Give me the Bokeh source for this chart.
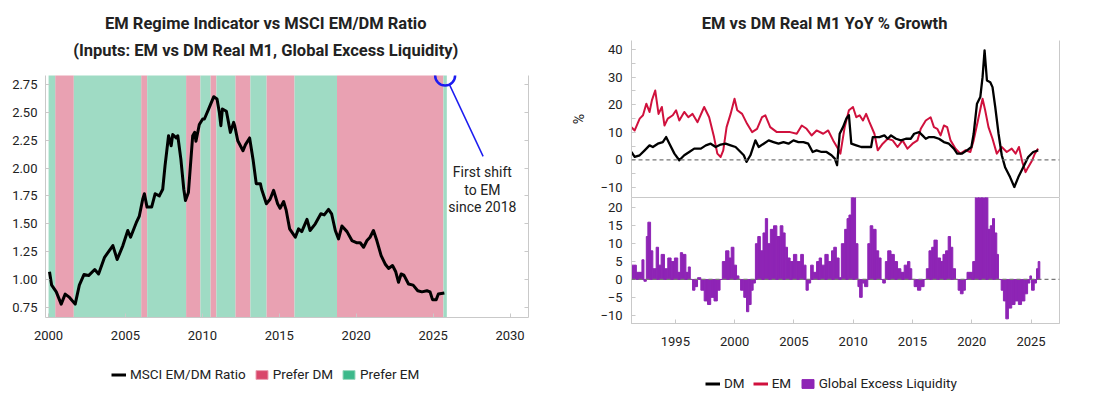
import numpy as np
from bokeh.plotting import figure
from bokeh.models import (Range1d, FixedTicker, LinearAxis, Legend, LegendItem,
                          Span, NumeralTickFormatter)
from bokeh.layouts import row, column
from bokeh.embed import file_html
from bokeh.resources import INLINE

# ---------------- data: left chart ----------------
ratio_year = [2000.06, 2000.2, 2000.5, 2000.82, 2001.08, 2001.36, 2001.73, 2002.0, 2002.3, 2002.6,
              2003.0, 2003.25, 2003.64, 2004.18, 2004.46, 2004.83, 2005.15, 2005.33, 2005.7, 2005.9,
              2006.12, 2006.23, 2006.4, 2006.7, 2006.93, 2007.2, 2007.42, 2007.57, 2007.8, 2007.97,
              2008.07, 2008.3, 2008.4, 2008.6, 2008.79, 2008.9, 2009.09, 2009.37, 2009.5, 2009.58,
              2009.8, 2010.02, 2010.13, 2010.41, 2010.74, 2010.95, 2011.1, 2011.2, 2011.3, 2011.56,
              2011.82, 2012.03, 2012.1, 2012.3, 2012.64, 2012.8, 2013.07, 2013.29, 2013.5, 2013.77,
              2013.85, 2014.16, 2014.4, 2014.63, 2014.89, 2015.05, 2015.28, 2015.45, 2015.67, 2016.04,
              2016.25, 2016.46, 2016.8, 2017.0, 2017.34, 2017.7, 2017.92, 2018.2, 2018.4, 2018.64,
              2018.85, 2019.07, 2019.4, 2019.72, 2020.05, 2020.26, 2020.48, 2020.7, 2020.9, 2021.12,
              2021.34, 2021.62, 2021.88, 2022.1, 2022.36, 2022.57, 2022.75, 2022.92, 2023.1, 2023.4,
              2023.7, 2024.0, 2024.27, 2024.6, 2024.8, 2024.96, 2025.2, 2025.34, 2025.73]
ratio_val = [1.07, 0.95, 0.89, 0.78, 0.87, 0.84, 0.78, 0.95, 1.045, 1.036,
             1.09, 1.05, 1.20, 1.305, 1.18, 1.305, 1.44, 1.38, 1.51, 1.57,
             1.72, 1.77, 1.65, 1.65, 1.77, 1.75, 1.81, 2.02, 2.29, 2.20,
             2.30, 2.27, 2.29, 2.08, 1.81, 1.71, 1.78, 2.29, 2.32, 2.24,
             2.39, 2.44, 2.44, 2.53, 2.64, 2.62, 2.50, 2.38, 2.53, 2.51,
             2.32, 2.41, 2.38, 2.245, 2.155, 2.21, 2.27, 2.08, 1.86, 1.86,
             1.81, 1.68, 1.72, 1.80, 1.68, 1.64, 1.70, 1.62, 1.455, 1.38,
             1.455, 1.43, 1.54, 1.44, 1.50, 1.59, 1.58, 1.63, 1.59, 1.44,
             1.365, 1.48, 1.43, 1.35, 1.33, 1.33, 1.29, 1.35, 1.38, 1.44,
             1.35, 1.215, 1.14, 1.10, 1.126, 1.07, 0.976, 1.05, 1.04, 0.96,
             0.95, 0.90, 0.89, 0.90, 0.89, 0.82, 0.82, 0.87, 0.88]

regime_start = [2000.0, 2000.43, 2001.64, 2006.02, 2006.41, 2008.94, 2009.87, 2010.52,
                2010.91, 2012.14, 2013.12, 2014.16, 2015.99, 2018.75, 2025.67]
regime_end = [2000.43, 2001.64, 2006.02, 2006.41, 2008.94, 2009.87, 2010.52, 2010.91,
              2012.14, 2013.12, 2014.16, 2015.99, 2018.75, 2025.67, 2025.89]
regime_type = ["EM", "DM", "EM", "DM", "EM", "DM", "EM", "DM",
               "EM", "DM", "EM", "DM", "EM", "DM", "EM"]

left_xticks = [2000, 2005, 2010, 2015, 2020, 2025, 2030]
left_yticks = [0.75, 1.0, 1.25, 1.5, 1.75, 2.0, 2.25, 2.5, 2.75]

left_title_1 = "EM Regime Indicator vs MSCI EM/DM Ratio"
left_title_2 = "(Inputs: EM vs DM Real M1, Global Excess Liquidity)"
right_title = "EM vs DM Real M1 YoY % Growth"

# annotation
note_year, note_level = 2025.78, 2.83
note_line_x = [2026.07, 2028.25]
note_line_y = [2.746, 2.105]
note_text = "First shift\nto EM\nsince 2018"
note_text_x, note_text_y = 2028.2, 2.04

# ---------------- data: right chart ----------------
em_year = [1991.29, 1991.57, 1991.99, 1992.27, 1992.55, 1992.82, 1993.02, 1993.3, 1993.58, 1993.86,
           1994.08, 1994.36, 1994.78, 1995.06, 1995.33, 1995.75, 1996.09, 1996.45, 1996.87, 1997.43,
           1997.85, 1998.26, 1998.54, 1998.82, 1999.04, 1999.32, 1999.66, 1999.99, 2000.22, 2000.63,
           2001.05, 2001.47, 2001.89, 2002.31, 2002.59, 2003.0, 2003.56, 2004.12, 2004.68, 2005.24,
           2005.66, 2006.07, 2006.49, 2006.91, 2007.47, 2007.89, 2008.31, 2008.72, 2008.92, 2009.28,
           2009.64, 2009.98, 2010.26, 2010.54, 2010.82, 2011.09, 2011.37, 2011.79, 2012.07, 2012.49,
           2012.91, 2013.33, 2013.74, 2014.16, 2014.58, 2015.0, 2015.42, 2015.7, 2016.12, 2016.53,
           2016.81, 2017.09, 2017.37, 2017.65, 2017.93, 2018.21, 2018.63, 2019.04, 2019.46, 2019.88,
           2020.16, 2020.52, 2020.91, 2021.13, 2021.41, 2021.75, 2022.11, 2022.53, 2022.95, 2023.37,
           2023.7, 2023.98, 2024.26, 2024.54, 2024.76, 2025.1, 2025.32, 2025.6]
em_val = [11.9, 10.7, 15, 16.2, 20.4, 17.4, 21.6, 25.2, 16.7, 19.2,
          12.5, 15, 16.2, 18, 14.3, 17.4, 15.5, 16.7, 13.7, 19.2,
          15.5, 8.3, 2.3, 1.1, 3.5, 11.9, 16.7, 22.2, 18, 16.7,
          13.1, 10.1, 11.3, 15.5, 16.2, 11.9, 10.1, 10.1, 10.1, 9.5,
          12.5, 11.3, 8.9, 10.7, 9.5, 10.7, 7.1, 4.1, 2.3, 11.9,
          18, 19.2, 15.5, 16.2, 14.3, 16.7, 13.7, 9.5, 3.5, 5.9,
          7.7, 7.1, 4.7, 7.1, 4.1, 5.9, 7.1, 11.3, 14.3, 15.5,
          11.9, 11.3, 8.9, 12.5, 11.9, 7.1, 4.1, 2.3, 3.5, 2.9,
          7.1, 14.3, 22.2, 18, 11.9, 7.7, 2.3, 4.7, 2.9, 4.1,
          2.3, 4.7, -0.7, -4.4, -2.6, -0.1, 2.3, 4.1]

dm_year = [1991.29, 1991.57, 1991.99, 1992.41, 1992.82, 1993.1, 1993.52, 1993.94, 1994.22, 1994.5,
           1994.92, 1995.33, 1995.75, 1996.17, 1996.59, 1997.15, 1997.57, 1997.98, 1998.4, 1998.82,
           1999.24, 1999.66, 2000.08, 2000.5, 2000.77, 2001.0, 2001.33, 2001.75, 2002.03, 2002.45,
           2002.87, 2003.28, 2003.7, 2004.12, 2004.54, 2004.96, 2005.38, 2005.8, 2006.21, 2006.58,
           2006.91, 2007.33, 2007.75, 2008.17, 2008.45, 2008.64, 2008.86, 2009.14, 2009.42, 2009.64,
           2009.84, 2010.26, 2010.68, 2011.09, 2011.51, 2011.65, 2012.21, 2012.63, 2012.91, 2013.19,
           2013.61, 2014.02, 2014.44, 2014.86, 2015.14, 2015.56, 2015.84, 2016.12, 2016.4, 2016.81,
           2017.23, 2017.65, 2018.07, 2018.49, 2018.77, 2019.18, 2019.6, 2019.97, 2020.16, 2020.44,
           2020.72, 2020.91, 2021.08, 2021.28, 2021.56, 2021.75, 2021.98, 2022.26, 2022.53, 2022.81,
           2023.23, 2023.59, 2023.93, 2024.34, 2024.76, 2025.18, 2025.6]
dm_val = [2.9, 1.1, 1.7, 3.5, 5.3, 4.7, 5.9, 6.5, 8.3, 5.9,
          2.3, -0.1, 1.7, 2.9, 4.1, 4.1, 5.3, 5.9, 4.7, 5.6,
          5.9, 5.3, 4.7, 2.9, 1.7, -0.7, 1.7, 7.1, 4.7, 5.9,
          7.1, 6.5, 5.9, 6.5, 5.9, 7.1, 6.5, 6.5, 5.9, 2.9,
          3.5, 2.9, 2.9, 1.7, 0.5, -1.9, 9.5, 11.9, 15, 16.2,
          5.9, 5.3, 4.7, 4.7, 4.7, 8.3, 8.3, 8.9, 7.7, 8.9,
          7.7, 7.1, 7.7, 7.7, 9.5, 10.1, 8.9, 7.7, 8.3, 8.3,
          7.7, 6.5, 5.9, 4.1, 2.3, 2.3, 3.5, 4.7, 9.5, 20.4,
          22.8, 30, 39.7, 28.8, 28.2, 26.4, 19.2, 9.5, 1.7, -2.6,
          -6.2, -9.8, -6.2, -2.6, 1.1, 2.9, 3.5]

gel_year = [1991.29, 1991.57, 1991.71, 1991.99, 1992.18, 1992.35, 1992.55, 1992.68, 1992.91, 1993.1,
            1993.38, 1993.58, 1993.8, 1994.08, 1994.36, 1994.64, 1994.92, 1995.2, 1995.42, 1995.61,
            1995.89, 1996.09, 1996.26, 1996.45, 1996.65, 1996.87, 1997.15, 1997.43, 1997.71, 1997.98,
            1998.26, 1998.54, 1998.77, 1998.96, 1999.24, 1999.52, 1999.71, 1999.94, 2000.16, 2000.36,
            2000.5, 2000.77, 2001.0, 2001.19, 2001.39, 2001.56, 2001.75, 2001.95, 2002.17, 2002.39,
            2002.59, 2002.78, 2003.01, 2003.28, 2003.56, 2003.84, 2004.07, 2004.26, 2004.46, 2004.68,
            2004.96, 2005.24, 2005.57, 2005.8, 2006.02, 2006.21, 2006.41, 2006.63, 2006.91, 2007.13,
            2007.33, 2007.61, 2007.89, 2008.17, 2008.36, 2008.58, 2008.81, 2009.0, 2009.28, 2009.48,
            2009.64, 2009.84, 2009.98, 2010.2, 2010.4, 2010.54, 2010.76, 2010.96, 2011.23, 2011.43,
            2011.65, 2011.93, 2012.15, 2012.35, 2012.49, 2012.71, 2012.91, 2013.19, 2013.47, 2013.74,
            2014.02, 2014.3, 2014.58, 2014.78, 2014.94, 2015.14, 2015.42, 2015.7, 2015.98, 2016.17,
            2016.39, 2016.62, 2016.81, 2017.09, 2017.37, 2017.57, 2017.79, 2018.01, 2018.21, 2018.4,
            2018.63, 2018.85, 2019.04, 2019.27, 2019.46, 2019.6, 2019.88, 2020.08, 2020.3, 2020.58,
            2020.86, 2021.19, 2021.36, 2021.56, 2021.75, 2021.92, 2022.11, 2022.25, 2022.48, 2022.67,
            2022.87, 2023.09, 2023.37, 2023.65, 2023.93, 2024.2, 2024.48, 2024.71, 2024.9, 2025.04,
            2025.27, 2025.46, 2025.6]
gel_val = [4, 4, 2, 2, 5.5, -0.5, 12, 16, 8, 3,
           9, 4, 7, 3, 6, 5, 6, 2, 7.5, 7,
           2, 3.5, 0, -3, -2, 0.5, -3, -6, -7, -5,
           -6, -3, 0, 5, 8, 6, 9, 4, 1, 0,
           -3, -5, -9, -7, -3, -1, 10, 12, 8, 13,
           17, 10, 14, 15, 12, 15, 13, 9, 6, 5,
           7, 5, 7, 4, -3, -1, 4, 2, 5, 6,
           4, 7, 5, 8, 9, 6, 0.5, 10, 14, 17,
           18, 25, 25, 10, -2, -5, -1, -2, 10, 15,
           14, 8, 6, 0, -1, 5, 8, 7, 5, 3,
           2, 4, 5, 3, 0, -2, -3, -2, 0, 3,
           8, 9, 11, 6, 5, 7, 8, 12, 9, 3,
           0, -3, -4, -3, 0, 2, 2, 5, 25, 25,
           25, 25, 14, 15, 17, 13, 7, 0, -3, -6,
           -11, -8, -7, -6, -7, -6, -4, -1, 1, -3,
           -1, 3, 5]

right_xticks = [1995, 2000, 2005, 2010, 2015, 2020, 2025]
top_yticks = [-10, 0, 10, 20, 30, 40]
top_yminor = [-10, -5, 0, 5, 10, 15, 20, 25, 30, 35, 40]
bot_yticks = [-10, -5, 0, 5, 10, 15, 20]

# ---------------- styles ----------------
FONT = "Roboto"
TXT = "#222222"
AX = "#c9c9c9"
PINK_BAND, GREEN_BAND = "#e9a1b2", "#9fdbc4"
PINK, GREEN = "#d9476b", "#3cb98b"
RED, PURPLE, BLUE = "#d0113d", "#8e24b5", "#1c1cf0"
LW, RW = 568, 552


def style_axis(ax, labels=True, standoff=8):
    ax.axis_line_color = AX
    ax.major_tick_line_color = AX
    ax.major_tick_in = 4
    ax.major_tick_out = 0
    ax.minor_tick_line_color = None
    ax.major_label_text_font = FONT
    ax.major_label_text_font_size = "13px"
    ax.major_label_text_color = TXT
    ax.major_label_text_alpha = 1.0 if labels else 0.0
    ax.major_label_standoff = standoff


def blank_fig(w, h):
    f = figure(width=w, height=h, x_range=Range1d(0, w), y_range=Range1d(0, h),
               x_axis_type=None, y_axis_type=None, output_backend="svg",
               toolbar_location=None, min_border=0)
    f.outline_line_color = None
    f.xgrid.visible = False
    f.ygrid.visible = False
    return f


def header_text(f, x, y, txt):
    f.text([x], [y], text=[txt], text_align="center", text_baseline="middle",
           text_font={"value": FONT}, text_font_size="16.5px", text_font_style="bold",
           text_color=TXT)


def make_legend(items, loc):
    return Legend(items=items, orientation="horizontal", location=loc,
                  border_line_color=None, background_fill_alpha=0, label_text_font=FONT,
                  label_text_font_size="13.5px", label_text_color=TXT, glyph_width=15,
                  glyph_height=11, spacing=8, label_standoff=4, padding=1, margin=0,
                  label_height=16)


OFF = [-50, -40]   # dummy legend-glyph coordinates outside the legend strip's ranges

# ================= LEFT CHART =================
h1 = blank_fig(LW, 75)
header_text(h1, 259, 52, left_title_1)
header_text(h1, 259, 25, left_title_2)

p1 = figure(width=LW, height=280, x_range=Range1d(1999.8, 2031.2), y_range=Range1d(0.66, 2.83),
            output_backend="svg", toolbar_location=None,
            min_border_left=45, min_border_right=40, min_border_top=0, min_border_bottom=38)
p1.title.visible = False
p1.outline_line_color = None
p1.xgrid.visible = False
p1.ygrid.visible = False

rs = np.array(regime_start)
re_ = np.array(regime_end)
rt = np.array(regime_type)
for kind, col in (("DM", PINK_BAND), ("EM", GREEN_BAND)):
    m = rt == kind
    p1.quad(left=rs[m], right=re_[m], bottom=0.0, top=4.0, fill_color=col, line_color=None)

p1.line(ratio_year, ratio_val, line_color="black", line_width=3, line_join="round")

p1.scatter([note_year], [note_level], marker="circle", size=20, fill_color=None,
           line_color=BLUE, line_width=2.5)
p1.line(note_line_x, note_line_y, line_color=BLUE, line_width=1.5)
p1.text([note_text_x], [note_text_y], text=[note_text], text_align="center",
        text_baseline="top", text_font_size="14px", text_color=TXT,
        text_font={"value": FONT}, text_line_height=1.12)

p1.xaxis.ticker = FixedTicker(ticks=left_xticks)
p1.xaxis.formatter = NumeralTickFormatter(format="0")
p1.yaxis.ticker = FixedTicker(ticks=left_yticks)
p1.yaxis.formatter = NumeralTickFormatter(format="0.00")
style_axis(p1.xaxis[0], standoff=13)
style_axis(p1.yaxis[0])
right_ax = LinearAxis(ticker=FixedTicker(ticks=left_yticks))
style_axis(right_ax, labels=False)
p1.add_layout(right_ax, "right")

l1 = blank_fig(LW, 40)
lr1 = l1.line(x=OFF, y=OFF, line_color="black", line_width=3)
lq1 = l1.quad(left=[OFF[0]], right=[OFF[1]], bottom=[OFF[0]], top=[OFF[1]],
              fill_color=PINK, line_color="#eaa0b3")
lq2 = l1.quad(left=[OFF[0]], right=[OFF[1]], bottom=[OFF[0]], top=[OFF[1]],
              fill_color=GREEN, line_color="#9ad9c0")
l1.add_layout(make_legend([LegendItem(label="MSCI EM/DM Ratio", renderers=[lr1]),
                           LegendItem(label="Prefer DM", renderers=[lq1]),
                           LegendItem(label="Prefer EM", renderers=[lq2])], (66, 13)))

# ================= RIGHT CHART =================
h2 = blank_fig(RW, 40)
header_text(h2, 249, 17, right_title)

xr = Range1d(1991.3, 2027.4)
p2 = figure(width=RW, height=157, x_range=xr, y_range=Range1d(-13.6, 43.3),
            output_backend="svg", toolbar_location=None,
            min_border_left=59, min_border_right=61, min_border_top=0, min_border_bottom=0)
p2.title.visible = False
p2.outline_line_color = None
p2.xgrid.visible = False
p2.ygrid.visible = False
p2.xaxis.visible = False
p2.add_layout(Span(location=0, dimension="width", line_color="#777777", line_dash="4 3",
                   line_width=1.2))
p2.line(em_year, em_val, line_color=RED, line_width=2, line_join="round")
p2.line(dm_year, dm_val, line_color="black", line_width=2.3, line_join="round")
p2.yaxis.ticker = FixedTicker(ticks=top_yticks, minor_ticks=top_yminor)
style_axis(p2.yaxis[0], standoff=9)
p2.yaxis.minor_tick_line_color = AX
p2.yaxis.minor_tick_in = 4
p2.yaxis.minor_tick_out = 0
p2.yaxis.axis_label = "%"
p2.yaxis.axis_label_text_font = FONT
p2.yaxis.axis_label_text_font_size = "14px"
p2.yaxis.axis_label_text_font_style = "normal"
p2.yaxis.axis_label_text_color = TXT
p2.yaxis.axis_label_standoff = 10
r2 = LinearAxis(ticker=FixedTicker(ticks=top_yticks))
style_axis(r2, labels=False)
r2.major_tick_line_color = None
p2.add_layout(r2, "right")

p3 = figure(width=RW, height=158, x_range=xr, y_range=Range1d(-12.3, 22.9),
            output_backend="svg", toolbar_location=None,
            min_border_left=59, min_border_right=61, min_border_top=0, min_border_bottom=32)
p3.title.visible = False
p3.outline_line_color = AX
p3.xgrid.visible = False
p3.ygrid.visible = False
p3.add_layout(Span(location=0, dimension="width", line_color="#777777", line_dash="4 3",
                   line_width=1.2))
gx = np.array(gel_year)
gv = np.array(gel_val, dtype=float)
g_right = np.append(gx[1:], gx[-1] + 0.14)
p3.quad(left=gx, right=g_right, bottom=0, top=gv, fill_color=PURPLE,
        line_color=PURPLE, line_width=1)
p3.xaxis.ticker = FixedTicker(ticks=right_xticks)
p3.xaxis.formatter = NumeralTickFormatter(format="0")
p3.yaxis.ticker = FixedTicker(ticks=bot_yticks)
style_axis(p3.xaxis[0], standoff=13)
style_axis(p3.yaxis[0], standoff=9)

l3 = blank_fig(RW, 40)
dm_l = l3.line(x=OFF, y=OFF, line_color="black", line_width=3)
em_l = l3.line(x=OFF, y=OFF, line_color=RED, line_width=3)
gel_l = l3.quad(left=[OFF[0]], right=[OFF[1]], bottom=[OFF[0]], top=[OFF[1]],
                fill_color=PURPLE, line_color=PURPLE)
l3.add_layout(make_legend([LegendItem(label="DM", renderers=[dm_l]),
                           LegendItem(label="EM", renderers=[em_l]),
                           LegendItem(label="Global Excess Liquidity", renderers=[gel_l])],
                          (74, 4)))

layout = row(column(h1, p1, l1), column(h2, p2, p3, l3))
open("out.html", "w").write(file_html(layout, INLINE))
